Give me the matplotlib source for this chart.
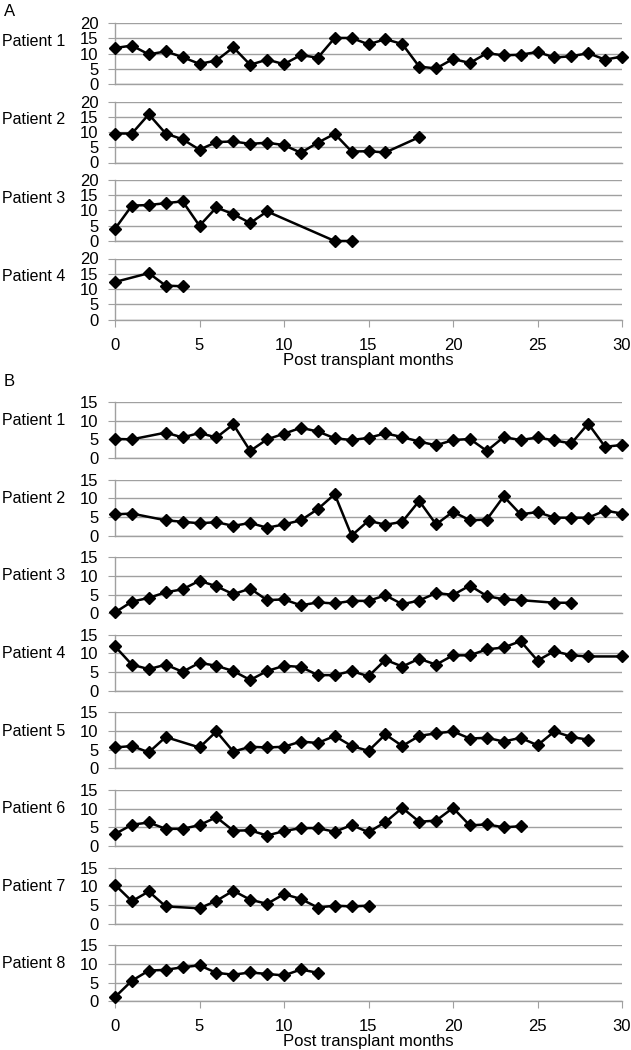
import matplotlib
matplotlib.use("Agg")
import matplotlib.pyplot as plt

plt.rcParams['font.family'] = ['Liberation Sans', 'DejaVu Sans']

# panel A, y scale 0-20
a_p1_months = [0, 1, 2, 3, 4, 5, 6, 7, 8, 9, 10, 11, 12, 13, 14, 15, 16, 17, 18, 19, 20, 21, 22, 23, 24, 25, 26, 27, 28, 29, 30]
a_p1_vals = [11.8, 12.6, 9.7, 10.7, 8.8, 6.6, 7.7, 12.0, 6.3, 8.0, 6.5, 9.5, 8.6, 15.1, 15.1, 13.0,
             14.7, 13.1, 5.7, 5.1, 8.2, 6.9, 10.1, 9.4, 9.6, 10.5, 8.7, 9.1, 10.1, 8.0, 9.0]
a_p2_months = [0, 1, 2, 3, 4, 5, 6, 7, 8, 9, 10, 11, 12, 13, 14, 15, 16, 18]
a_p2_vals = [9.5, 9.5, 15.8, 9.5, 7.6, 4.2, 6.7, 6.9, 6.1, 6.5, 5.7, 3.2, 6.5, 9.4, 3.6, 3.7, 3.3, 8.3]
a_p3_months = [0, 1, 2, 3, 4, 5, 6, 7, 8, 9, 13, 14]
a_p3_vals = [4.0, 11.6, 11.8, 12.4, 13.0, 5.0, 11.0, 8.8, 5.9, 9.7, 0, 0]
a_p4_months = [0, 2, 3, 4]
a_p4_vals = [12.3, 15.2, 11.1, 10.9]

# panel B, y scale 0-15
b_p1_months = [0, 1, 3, 4, 5, 6, 7, 8, 9, 10, 11, 12, 13, 14, 15, 16, 17, 18, 19, 20, 21, 22, 23, 24, 25, 26, 27, 28, 29, 30]
b_p1_vals = [5.1, 5.0, 6.8, 5.5, 6.7, 5.5, 9.0, 1.9, 5.0, 6.5, 8.1, 7.1, 5.3, 4.8, 5.4, 6.6, 5.6,
             4.4, 3.4, 4.8, 5.1, 1.9, 5.6, 4.8, 5.5, 4.7, 3.9, 9.2, 3.0, 3.5]
b_p2_months = [0, 1, 3, 4, 5, 6, 7, 8, 9, 10, 11, 12, 13, 14, 15, 16, 17, 18, 19, 20, 21, 22, 23, 24, 25, 26, 27, 28, 29, 30]
b_p2_vals = [5.7, 5.9, 4.1, 3.7, 3.3, 3.6, 2.6, 3.4, 2.1, 3.0, 4.1, 7.1, 11.1, 0, 4.0, 2.9, 3.7,
             9.3, 3.0, 6.4, 4.1, 4.3, 10.5, 5.7, 6.3, 4.8, 4.8, 4.8, 6.7, 5.9]
b_p3_months = [0, 1, 2, 3, 4, 5, 6, 7, 8, 9, 10, 11, 12, 13, 14, 15, 16, 17, 18, 19, 20, 21, 22, 23, 24, 26, 27]
b_p3_vals = [0.2, 3.1, 4.1, 5.6, 6.4, 8.7, 7.2, 5.1, 6.6, 3.5, 3.7, 2.1, 2.9, 2.6, 3.3, 3.3, 4.8,
             2.4, 3.4, 5.4, 4.9, 7.4, 4.6, 3.7, 3.5, 2.8, 2.8]
b_p4_months = [0, 1, 2, 3, 4, 5, 6, 7, 8, 9, 10, 11, 12, 13, 14, 15, 16, 17, 18, 19, 20, 21, 22, 23, 24, 25, 26, 27, 28, 30]
b_p4_vals = [11.9, 7.0, 5.8, 7.0, 5.1, 7.5, 6.7, 5.3, 2.9, 5.3, 6.7, 6.4, 4.2, 4.2, 5.3, 3.9, 8.3,
             6.5, 8.6, 7.0, 9.5, 9.5, 11.1, 11.6, 13.3, 8.1, 10.6, 9.5, 9.2, 9.2]
b_p5_months = [0, 1, 2, 3, 5, 6, 7, 8, 9, 10, 11, 12, 13, 14, 15, 16, 17, 18, 19, 20, 21, 22, 23, 24, 25, 26, 27, 28]
b_p5_vals = [5.6, 6.0, 4.3, 8.4, 5.6, 9.9, 4.5, 5.8, 5.6, 5.8, 7.2, 6.8, 8.7, 6.0, 4.7, 9.1, 6.0,
             8.7, 9.4, 9.9, 8.0, 8.2, 7.2, 8.2, 6.2, 9.9, 8.4, 7.7]
b_p6_months = [0, 1, 2, 3, 4, 5, 6, 7, 8, 9, 10, 11, 12, 13, 14, 15, 16, 17, 18, 19, 20, 21, 22, 23, 24]
b_p6_vals = [3.2, 5.7, 6.3, 4.6, 4.6, 5.6, 7.7, 4.1, 4.2, 2.8, 4.0, 4.8, 4.8, 3.8, 5.6, 3.7, 6.4,
             10.2, 6.5, 6.8, 10.2, 5.5, 5.8, 5.0, 5.3]
b_p7_months = [0, 1, 2, 3, 5, 6, 7, 8, 9, 10, 11, 12, 13, 14, 15]
b_p7_vals = [10.4, 6.0, 8.6, 4.6, 4.1, 6.1, 8.8, 6.4, 5.3, 7.9, 6.6, 4.3, 4.8, 4.6, 4.8]
b_p8_months = [0, 1, 2, 3, 4, 5, 6, 7, 8, 9, 10, 11, 12]
b_p8_vals = [1.1, 5.5, 8.2, 8.4, 9.1, 9.6, 7.6, 7.1, 7.7, 7.3, 6.9, 8.5, 7.6]

a_series = [(a_p1_months, a_p1_vals), (a_p2_months, a_p2_vals),
            (a_p3_months, a_p3_vals), (a_p4_months, a_p4_vals)]
b_series = [(b_p1_months, b_p1_vals), (b_p2_months, b_p2_vals),
            (b_p3_months, b_p3_vals), (b_p4_months, b_p4_vals),
            (b_p5_months, b_p5_vals), (b_p6_months, b_p6_vals),
            (b_p7_months, b_p7_vals), (b_p8_months, b_p8_vals)]
x_ticks = [0, 5, 10, 15, 20, 25, 30]

W, H = 631, 1050
GRAY = '#a0a0a0'
fig = plt.figure(figsize=(W / 100, H / 100), dpi=100)


def add_panel(top, height, months, vals, ymax, name, label_y, last):
    left, right = 115, 622
    ax = fig.add_axes([left / W, 1 - (top + height) / H, (right - left) / W, height / H])
    ax.plot(months, vals, color='black', lw=1.8, marker='D', markersize=6,
            clip_on=False, zorder=3)
    ax.set_xlim(0, 30)
    ax.set_ylim(0, ymax)
    ax.set_yticks(list(range(0, ymax + 1, 5)))
    ax.yaxis.grid(True, color=GRAY, lw=1)
    ax.set_axisbelow(True)
    for s in ['top', 'right']:
        ax.spines[s].set_visible(False)
    for s in ['left', 'bottom']:
        ax.spines[s].set_color(GRAY)
        ax.spines[s].set_linewidth(1)
    ax.tick_params(axis='y', length=5, color=GRAY, pad=7, labelsize=12)
    ax.set_xticks(x_ticks)
    if last:
        ax.tick_params(axis='x', length=5, color=GRAY, pad=8, labelsize=12)
        ax.set_xlabel('Post transplant months', fontsize=12, labelpad=0)
    else:
        ax.tick_params(axis='x', length=0, labelbottom=False)
    # patient name sits left of the tick labels
    ax.text(-113 / (right - left), label_y, name, transform=ax.transAxes,
            fontsize=11.5, va='center', ha='left')
    return ax


fig.text(4 / W, 1 - 12 / H, 'A', fontsize=12, va='center', ha='left')
for i, (m, v) in enumerate(a_series):
    add_panel(23 + 78.5 * i, 61, m, v, 20, 'Patient %d' % (i + 1), 0.7, i == len(a_series) - 1)

fig.text(4 / W, 1 - 381 / H, 'B', fontsize=12, va='center', ha='left')
for i, (m, v) in enumerate(b_series):
    add_panel(402 + 77.6 * i, 56, m, v, 15, 'Patient %d' % (i + 1), 0.667, i == len(b_series) - 1)

fig.savefig('out.png', dpi=100)
